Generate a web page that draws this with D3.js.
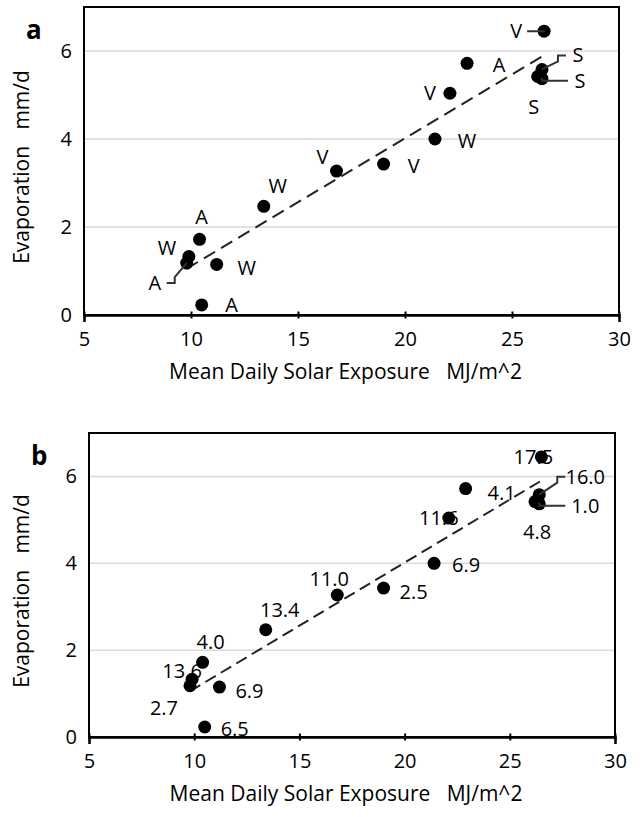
<!DOCTYPE html>
<html>
<head>
<meta charset="utf-8">
<script src="https://cdn.jsdelivr.net/npm/d3@7"></script>
<style>
body { margin: 0; background: #fff; }
text { font-family: "Open Sans", "Liberation Sans", sans-serif; fill: #000; }
</style>
</head>
<body>
<svg id="chart" width="640" height="817"></svg>
<script>
// data
var solar = [26.5, 22.9, 26.4, 26.2, 26.4, 22.1, 21.4, 19.0, 16.8, 13.4, 10.4, 9.9, 9.8, 11.2, 10.5];
var evap  = [6.45, 5.72, 5.58, 5.42, 5.37, 5.04, 4.00, 3.43, 3.27, 2.47, 1.72, 1.33, 1.18, 1.15, 0.23];
var season = ["V", "A", "S", "S", "S", "V", "W", "V", "V", "W", "A", "W", "A", "W", "A"];
var wind = ["17.5", "4.1", "16.0", "4.8", "1.0", "11.6", "6.9", "2.5", "11.0", "13.4", "4.0", "13.6", "2.7", "6.9", "6.5"];
var xTicks = [5, 10, 15, 20, 25, 30];
var yTicks = [0, 2, 4, 6];

// label placement: [dx, dy, leader]  leader: 0 none, 1 straight, 2 elbow
var placeA = [[-28,0,1],[32,2,0],[36,-14,2],[-4,30,0],[38,2,1],[-20,0,0],[32,2,0],[30,2,0],
              [-14,-14,0],[14,-20,0],[2,-22,0],[-22,-8,0],[-32,20,2],[30,4,0],[30,0,0]];
var placeB = [[-8,0,0],[36,4,0],[46,-18,2],[2,30,0],[46,2,1],[-10,0,0],[32,2,0],[30,4,0],
              [-8,-16,0],[14,-20,0],[8,-20,0],[-10,-8,0],[-26,22,0],[30,4,0],[30,2,0]];

var svg = d3.select("#chart");
var pts = solar.map(function(s, i) { return {x: s, y: evap[i]}; });

// least squares trend
var mx = d3.mean(solar), my = d3.mean(evap);
var slope = d3.sum(pts, function(d) { return (d.x - mx) * (d.y - my); }) /
            d3.sum(pts, function(d) { return (d.x - mx) * (d.x - mx); });
var icpt = my - slope * mx;
var trend = d3.extent(solar).map(function(v) { return {x: v, y: icpt + slope * v}; });

function panel(letter, labels, place, left, right, top, bottom, dash) {
    var x = d3.scaleLinear().domain([5, 30]).range([left, right]);
    var y = d3.scaleLinear().domain([0, 7]).range([bottom, top]);
    var g = svg.append("g");

    g.selectAll(".grid").data(yTicks.filter(function(t) { return t > 0; })).enter()
        .append("line")
        .attr("x1", left).attr("x2", right)
        .attr("y1", function(d) { return y(d); }).attr("y2", function(d) { return y(d); })
        .attr("stroke", "#d9d9d9").attr("stroke-width", 1.5);

    g.append("rect")
        .attr("x", left).attr("y", top)
        .attr("width", right - left).attr("height", bottom - top)
        .attr("fill", "none").attr("stroke", "#000").attr("stroke-width", 2);

    var xa = g.append("g")
        .attr("transform", "translate(0," + bottom + ")")
        .call(d3.axisBottom(x).tickValues(xTicks).tickSize(7).tickPadding(10).tickFormat(d3.format("d")));
    xa.selectAll("line").attr("transform", "translate(0,-3.5)").attr("stroke-width", 2);
    xa.select(".domain").attr("stroke-width", 2.5);
    xa.selectAll("text").style("font-size", "20px");

    var ya = g.append("g")
        .attr("transform", "translate(" + left + ",0)")
        .call(d3.axisLeft(y).tickValues(yTicks).tickSize(0).tickPadding(12).tickFormat(d3.format("d")));
    ya.select(".domain").remove();
    ya.selectAll("text").style("font-size", "20px");

    g.append("path")
        .datum(trend)
        .attr("fill", "none").attr("stroke", "#222").attr("stroke-width", 2)
        .attr("stroke-dasharray", dash)
        .attr("d", d3.line().x(function(d) { return x(d.x); }).y(function(d) { return y(d.y); }));

    g.selectAll(".dot").data(pts).enter()
        .append("circle")
        .attr("cx", function(d) { return x(d.x); })
        .attr("cy", function(d) { return y(d.y); })
        .attr("r", 6.5).attr("fill", "#000");

    pts.forEach(function(d, i) {
        var px = x(d.x), py = y(d.y), p = place[i];
        var lx = px + p[0], ly = py + p[1];
        if (p[2] === 1) {
            var ex = p[0] < 0 ? lx + 11 : lx - (labels[i].length > 1 ? 20 : 12);
            g.append("path").attr("d", "M" + ex + "," + ly + "H" + px + "V" + (py - 1))
                .attr("fill", "none").attr("stroke", "#333").attr("stroke-width", 2);
        } else if (p[2] === 2) {
            var ex2 = p[0] < 0 ? lx + 12 : lx - (labels[i].length > 1 ? 20 : 12);
            var mid = p[0] < 0 ? ex2 + 8 : ex2 - 8;
            g.append("path").attr("d", "M" + ex2 + "," + ly + "H" + mid + "V" + (ly + (p[1] < 0 ? 6 : -6)) + "L" + px + "," + py)
                .attr("fill", "none").attr("stroke", "#333").attr("stroke-width", 2);
        }
        g.append("text")
            .attr("x", lx).attr("y", ly).attr("dy", "0.35em")
            .attr("text-anchor", "middle")
            .style("font-size", "20px")
            .text(labels[i]);
    });

    g.append("text")
        .attr("x", (left + right) / 2 - 6).attr("y", bottom + 64)
        .attr("text-anchor", "middle").style("font-size", "21px")
        .attr("xml:space", "preserve")
        .text("Mean Daily Solar Exposure   MJ/m^2");

    g.append("text")
        .attr("transform", "translate(22," + ((top + bottom) / 2 + 6) + ") rotate(-90)")
        .attr("text-anchor", "middle").attr("dy", "0.35em").style("font-size", "21px")
        .attr("xml:space", "preserve")
        .text("Evaporation   mm/d");

    g.append("text")
        .attr("x", left - 58).attr("y", top + 32)
        .style("font-size", "26px").style("font-weight", "bold")
        .text(letter);
}

panel("a", season, placeA, 84, 619, 7, 315, "13,7");
panel("b", wind, placeB, 89, 615, 433, 737, "12,6");
</script>
</body>
</html>
